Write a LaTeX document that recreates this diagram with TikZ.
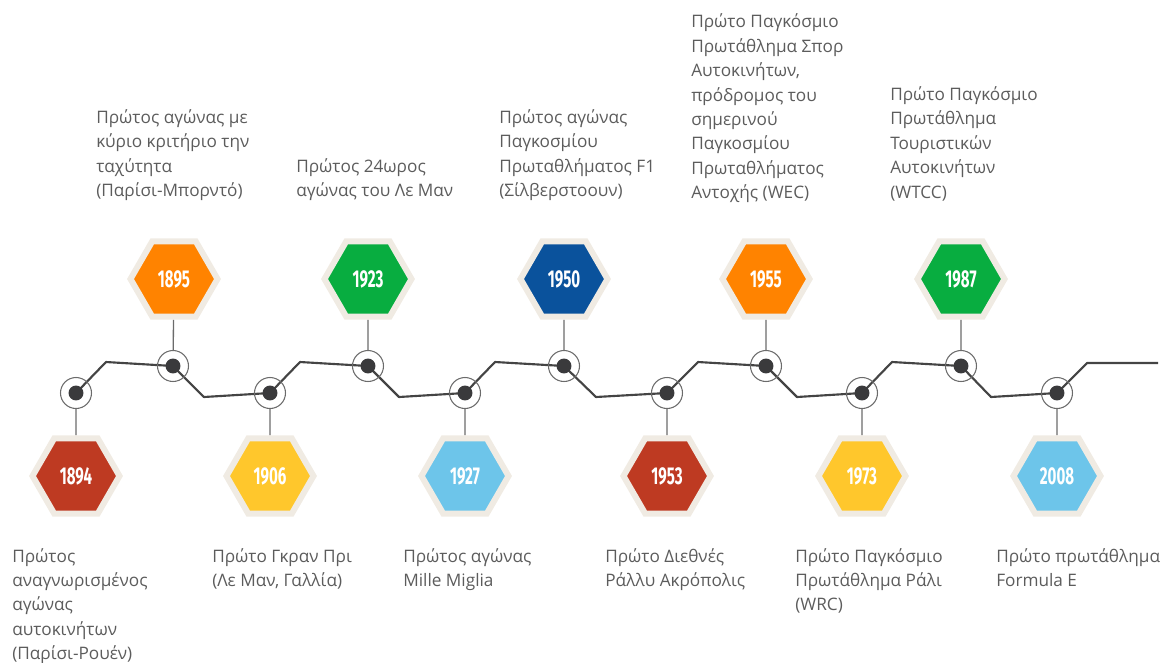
\documentclass[tikz,border=0pt]{standalone}
\usepackage{fontspec}
\setmainfont{Open Sans}
\newfontfamily\yearfont{Fira Sans}[FakeStretch=0.62]
\usetikzlibrary{shapes.geometric,backgrounds}

\definecolor{hexred}{HTML}{BE3A22}
\definecolor{hexorange}{HTML}{FF8300}
\definecolor{hexyellow}{HTML}{FFC72C}
\definecolor{hexgreen}{HTML}{08AD40}
\definecolor{hexsky}{HTML}{6DC5EA}
\definecolor{hexnavy}{HTML}{0A529C}
\definecolor{hexrim}{HTML}{F0EBE3}
\definecolor{trackgrey}{HTML}{444444}
\definecolor{dotgrey}{HTML}{3A3A3C}
\definecolor{stemgrey}{HTML}{6B6B6B}
\definecolor{notegrey}{HTML}{5C5C5C}

\tikzset{
  hexa/.style={regular polygon, regular polygon sides=6, minimum size=65.25pt,
    inner sep=0pt, draw=hexrim, line width=4.5pt, text=white,
    font=\yearfont\bfseries\fontsize{18.3pt}{18.3pt}\selectfont},
  ring/.style={circle, draw=stemgrey, line width=0.8pt, minimum size=23.25pt,
    inner sep=0pt,
    path picture={\fill[dotgrey] (path picture bounding box.center) circle (5.6pt);}},
  stem/.style={draw=stemgrey, line width=1pt},
  track/.style={draw=trackgrey, line width=1.6pt, line join=round},
  note/.style={align=left, inner sep=0pt, text=notegrey,
    font=\fontsize{12.9pt}{18.3pt}\selectfont}
}

\begin{document}
\begin{tikzpicture}[x=0.75pt,y=-0.75pt]
  \useasboundingbox (0,0) rectangle (1168,662);

  % points on the timeline
  \node[ring] (r1894) at (76,393) {};
  \node[ring] (r1895) at (173,366) {};
  \node[ring] (r1906) at (270,393) {};
  \node[ring] (r1923) at (368,366) {};
  \node[ring] (r1927) at (465,393) {};
  \node[ring] (r1950) at (564,366) {};
  \node[ring] (r1953) at (667,393) {};
  \node[ring] (r1955) at (766,366) {};
  \node[ring] (r1973) at (862,393) {};
  \node[ring] (r1987) at (961,366) {};
  \node[ring] (r2008) at (1057,393) {};

  % year badges
  \node[hexa, fill=hexred]    (h1894) at (76,476)   {1894};
  \node[hexa, fill=hexorange] (h1895) at (174,279)  {1895};
  \node[hexa, fill=hexyellow] (h1906) at (270,476)  {1906};
  \node[hexa, fill=hexgreen]  (h1923) at (368,279)  {1923};
  \node[hexa, fill=hexsky]    (h1927) at (465,476)  {1927};
  \node[hexa, fill=hexnavy]   (h1950) at (564,279)  {1950};
  \node[hexa, fill=hexred]    (h1953) at (667,476)  {1953};
  \node[hexa, fill=hexorange] (h1955) at (766,279)  {1955};
  \node[hexa, fill=hexyellow] (h1973) at (862,476)  {1973};
  \node[hexa, fill=hexgreen]  (h1987) at (961,279)  {1987};
  \node[hexa, fill=hexsky]    (h2008) at (1057,476) {2008};

  \begin{scope}[on background layer]
    \draw[track] (r1894.center) -- (106,362) -- (r1895.center) -- (204,397)
      -- (r1906.center) -- (300,362) -- (r1923.center) -- (399,397)
      -- (r1927.center) -- (495,362) -- (r1950.center) -- (596,397)
      -- (r1953.center) -- (698,362) -- (r1955.center) -- (797,397)
      -- (r1973.center) -- (892,362) -- (r1987.center) -- (991,397)
      -- (r2008.center) -- (1087,363) -- (1158,363);
    \draw[stem] (r1894) -- (h1894);
    \draw[stem] (r1895) -- (h1895);
    \draw[stem] (r1906) -- (h1906);
    \draw[stem] (r1923) -- (h1923);
    \draw[stem] (r1927) -- (h1927);
    \draw[stem] (r1950) -- (h1950);
    \draw[stem] (r1953) -- (h1953);
    \draw[stem] (r1955) -- (h1955);
    \draw[stem] (r1973) -- (h1973);
    \draw[stem] (r1987) -- (h1987);
    \draw[stem] (r2008) -- (h2008);
  \end{scope}

  % texts above
  \node[note, anchor=south west] (t1895) at (96,201)
    {Πρώτος αγώνας με\\κύριο κριτήριο την\\ταχύτητα\\(Παρίσι-Μπορντό)};
  \node[note, anchor=south west] (t1923) at (296,201)
    {Πρώτος 24ωρος\\αγώνας του Λε Μαν};
  \node[note, anchor=south west] (t1950) at (499,201)
    {Πρώτος αγώνας\\Παγκοσμίου\\Πρωταθλήματος F1\\(Σίλβερστοουν)};
  \node[note, anchor=south west] (t1955) at (691,203)
    {Πρώτο Παγκόσμιο\\Πρωτάθλημα Σπορ\\Αυτοκινήτων,\\πρόδρομος του\\σημερινού\\Παγκοσμίου\\Πρωταθλήματος\\Αντοχής (WEC)};
  \node[note, anchor=south west] (t1987) at (890,201)
    {Πρώτο Παγκόσμιο\\Πρωτάθλημα\\Τουριστικών\\Αυτοκινήτων\\(WTCC)};

  % texts below
  \node[note, anchor=north west] (t1894) at (12,548)
    {Πρώτος\\αναγνωρισμένος\\αγώνας\\αυτοκινήτων\\(Παρίσι-Ρουέν)};
  \node[note, anchor=north west] (t1906) at (212,548)
    {Πρώτο Γκραν Πρι\\(Λε Μαν, Γαλλία)};
  \node[note, anchor=north west] (t1927) at (403,548)
    {Πρώτος αγώνας\\Mille Miglia};
  \node[note, anchor=north west] (t1953) at (605,548)
    {Πρώτο Διεθνές\\Ράλλυ Ακρόπολις};
  \node[note, anchor=north west] (t1973) at (795,548)
    {Πρώτο Παγκόσμιο\\Πρωτάθλημα Ράλι\\(WRC)};
  \node[note, anchor=north west] (t2008) at (996,548)
    {Πρώτο πρωτάθλημα\\Formula E};
\end{tikzpicture}
\end{document}
